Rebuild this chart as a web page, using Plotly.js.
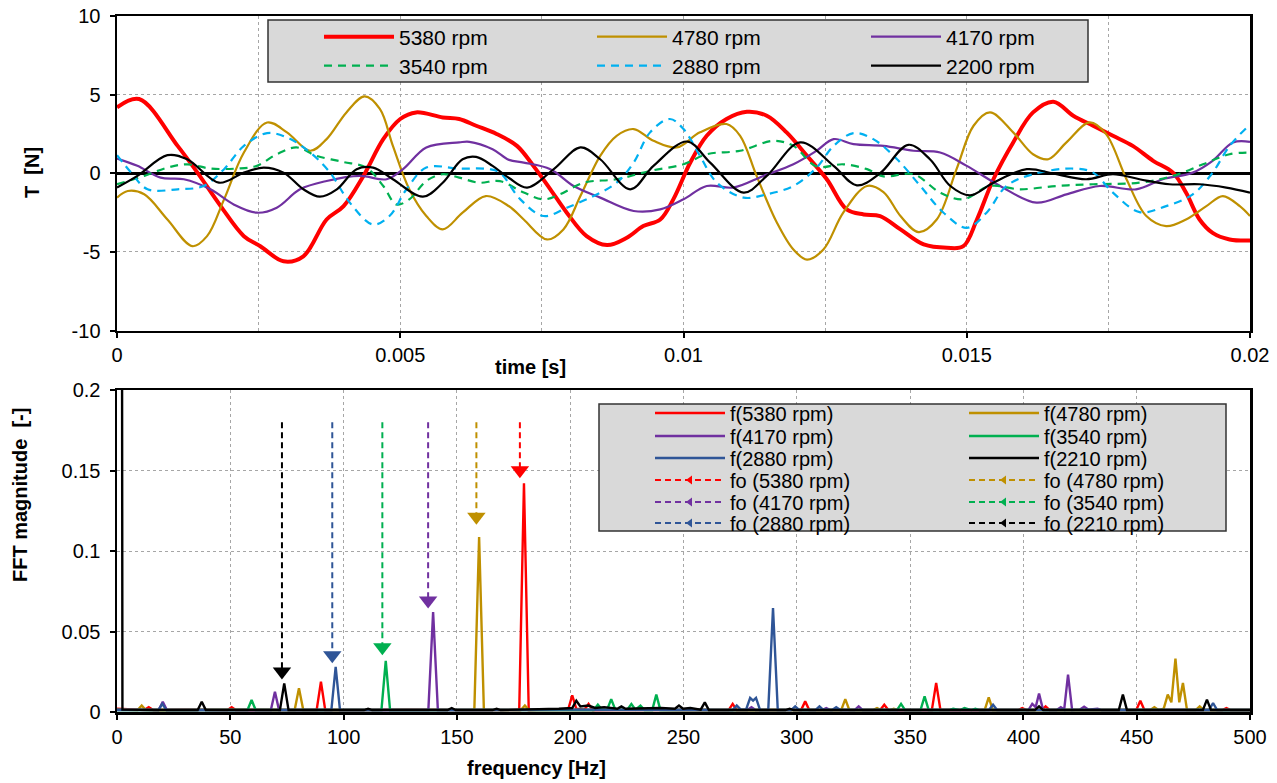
<!DOCTYPE html>
<html><head><meta charset="utf-8">
<script src="https://cdn.plot.ly/plotly-3.0.1.min.js"></script>
<style>html,body{margin:0;padding:0;background:#fff}#chart{width:1277px;height:783px}</style>
</head><body><div id="chart"></div>
<script>
// ---------- top chart: T(t) ----------
const names = ['5380 rpm','4780 rpm','4170 rpm','3540 rpm','2880 rpm','2200 rpm'];
const t5380 = [0,0.00039,0.00107,0.00142,0.00183,0.00224,0.00253,0.00294,0.00329,0.0037,0.004,0.00435,0.0047,0.005,0.00528,0.00575,0.00604,0.00634,0.0067,0.00706,0.00735,0.00765,0.00794,0.00829,0.00865,0.009,0.00929,0.00959,0.00982,0.01012,0.01041,0.01076,0.01112,0.01147,0.01182,0.01218,0.01253,0.01288,0.01318,0.01347,0.01383,0.01424,0.01465,0.01494,0.01518,0.01547,0.01582,0.01617,0.01653,0.01688,0.01723,0.01758,0.01793,0.01829,0.01864,0.01887,0.01911,0.01934,0.01964,0.02];
const T5380 = [4.19,4.72,1.74,0.04,-2.09,-4.0,-4.64,-5.6,-5.28,-2.94,-2.09,-0.17,2.17,3.45,3.87,3.55,3.45,3.02,2.5,1.74,0.47,-1.02,-2.51,-4.0,-4.57,-4.1,-3.36,-2.94,-1.66,0.68,2.38,3.45,3.91,3.66,2.6,1.11,-0.38,-2.3,-2.62,-2.72,-3.57,-4.53,-4.74,-4.64,-2.94,-0.38,1.96,3.87,4.55,3.66,3.02,2.38,1.74,0.79,0.04,-1.23,-2.94,-3.79,-4.21,-4.28];
const t4780 = [0,0.00019,0.00048,0.00089,0.00133,0.00159,0.00189,0.00224,0.00265,0.003,0.00341,0.0037,0.00405,0.00437,0.00464,0.00487,0.00516,0.00546,0.00575,0.0061,0.00651,0.00692,0.00718,0.00759,0.00788,0.00818,0.00853,0.00882,0.00912,0.00947,0.00988,0.01029,0.01076,0.011,0.01129,0.01165,0.01194,0.01218,0.01247,0.01282,0.01324,0.01353,0.01383,0.01415,0.01447,0.01482,0.01512,0.01541,0.01582,0.01617,0.01644,0.01676,0.01717,0.01746,0.01782,0.01817,0.01852,0.01887,0.01923,0.01952,0.01982,0.02];
const T4780 = [-1.55,-1.13,-1.34,-2.94,-4.64,-4.0,-1.66,1.32,3.23,2.6,1.43,2.17,3.87,4.89,4.09,1.74,-1.02,-2.72,-3.57,-2.51,-1.45,-2.1,-2.94,-4.21,-3.57,-1.45,1.11,2.38,2.81,2.06,1.64,2.6,3.13,2.38,-0.17,-3.15,-4.85,-5.49,-4.85,-2.51,-0.81,-1.2,-2.72,-3.74,-2.94,0.26,3.02,3.87,2.6,1.21,0.89,1.96,3.23,2.49,-0.38,-2.72,-3.36,-2.94,-2.09,-1.45,-2.09,-2.72];
const t4170 = [0,0.00036,0.00077,0.00118,0.00165,0.00206,0.00247,0.00282,0.00323,0.0037,0.00429,0.00476,0.00505,0.00546,0.00604,0.00622,0.00663,0.00692,0.00718,0.00765,0.00806,0.00853,0.00912,0.00959,0.01,0.01041,0.01088,0.01141,0.01194,0.01235,0.01265,0.013,0.01353,0.01406,0.01453,0.015,0.01559,0.01623,0.01676,0.01735,0.01799,0.01846,0.01899,0.01934,0.0197,0.02];
const T4170 = [0.94,0.47,-0.28,-0.38,-1.02,-1.98,-2.51,-2.19,-1.02,-0.49,-0.17,-0.38,0.26,1.64,1.96,2.0,1.53,0.85,0.68,0.26,-0.81,-1.55,-2.4,-2.3,-1.66,-0.81,-0.91,-0.17,0.57,1.43,2.17,1.85,1.74,1.43,1.32,0.47,-0.81,-1.87,-1.34,-0.81,-1.02,-0.38,0.04,0.79,1.96,2.0];
const t3540 = [0,0.00048,0.00089,0.00124,0.00165,0.00212,0.00247,0.00282,0.00317,0.00352,0.00399,0.0044,0.0047,0.00493,0.00516,0.00546,0.00575,0.00604,0.00639,0.00676,0.00718,0.00753,0.00782,0.00824,0.00882,0.00941,0.01,0.01041,0.011,0.01159,0.01194,0.01235,0.01282,0.01324,0.01353,0.01406,0.01453,0.01494,0.01541,0.01594,0.01658,0.01723,0.01805,0.01864,0.01917,0.01964,0.02];
const T3540 = [-0.7,-0.17,0.36,0.57,0.3,0.3,0.47,1.21,1.64,1.11,0.72,0.36,-0.81,-1.98,-1.66,-0.49,-0.06,-0.28,-0.6,-0.5,-1.23,-1.66,-1.34,-0.6,-0.38,0.15,0.57,1.21,1.43,2.06,1.74,0.43,0.57,0.26,-0.2,-0.06,-1.23,-1.66,-0.81,-1.02,-0.81,-0.7,-0.6,-0.17,0.57,1.21,1.32];
const t2880 = [0,0.00025,0.00054,0.00107,0.00153,0.00189,0.00224,0.00265,0.003,0.00341,0.00376,0.00411,0.00452,0.00481,0.00511,0.00546,0.00604,0.00657,0.00676,0.00712,0.00753,0.00794,0.00841,0.00882,0.00912,0.00941,0.00976,0.01,0.01029,0.01059,0.01106,0.01147,0.01194,0.01235,0.01265,0.013,0.01335,0.01377,0.01418,0.01459,0.015,0.01535,0.0157,0.01617,0.01688,0.01723,0.01758,0.01805,0.01852,0.01899,0.01934,0.01964,0.02];
const T2880 = [1.15,0.04,-1.02,-1.02,-0.81,0.26,1.74,2.55,2.28,1.32,0.04,-1.87,-3.26,-2.72,-1.02,0.36,0.3,0.26,0.04,-1.66,-2.72,-2.19,-1.45,-0.6,0.68,2.6,3.45,2.81,1.11,-0.6,-1.55,-1.34,-0.81,0.36,1.74,2.55,2.17,0.89,-0.81,-2.51,-3.47,-2.51,-0.81,-0.06,0.3,0.04,-1.23,-2.47,-2.09,-1.34,0.04,1.74,3.1];
const t2200 = [0,0.00036,0.00089,0.00124,0.0018,0.00224,0.00259,0.00294,0.00329,0.00358,0.00388,0.00423,0.00452,0.00487,0.0054,0.00575,0.0061,0.00634,0.00663,0.00692,0.00724,0.00771,0.00818,0.00853,0.00906,0.00947,0.01006,0.01047,0.01106,0.01147,0.01206,0.01265,0.01306,0.01347,0.01397,0.01435,0.01471,0.01506,0.01547,0.01606,0.01653,0.01711,0.01758,0.01805,0.01858,0.01911,0.01958,0.02];
const T2200 = [-0.91,-0.17,1.15,0.89,-0.6,0.04,0.36,0.04,-1.02,-1.49,-1.02,0.26,0.36,-0.38,-1.49,-0.6,0.89,1.04,0.47,-0.3,-0.91,0.26,1.64,0.89,-1.02,0.47,2.02,0.68,-1.23,-0.17,1.96,0.47,-0.77,0.0,1.81,0.89,-0.81,-1.4,-0.6,0.26,-0.02,-0.38,-0.06,-0.38,-0.7,-0.7,-0.91,-1.23];
const topT = [t5380,t4780,t4170,t3540,t2880,t2200];
const topV = [T5380,T4780,T4170,T3540,T2880,T2200];
const topColors = ['#FF0000','#BF9000','#7030A0','#00B050','#00B0F0','#000000'];
const topWidths = [4,2.2,2.2,2.2,2.2,2.2];
const topDash = ['solid','solid','solid','8px,6px','8px,6px','solid'];
const yTickVals = [-10,-5,0,5,10];
const yTickText = ['-10','-5','0','5','10'];

// ---------- bottom chart: FFT ----------
const fNames = ['f(5380 rpm)','f(4780 rpm)','f(4170 rpm)','f(3540 rpm)','f(2880 rpm)','f(2210 rpm)'];
const foNames = ['fo (5380 rpm)','fo (4780 rpm)','fo (4170 rpm)','fo (3540 rpm)','fo (2880 rpm)','fo (2210 rpm)'];
const fft5380f = [0,5,12,14,16,30,48.8,50.6,52.4,70,88.1,90,91.9,110,130,150,170,177.5,179.6,181.7,190,199.1,200.9,202.7,206.3,208.1,209.9,230,250,269.9,271.7,273.5,290,301.9,303.7,305.5,336.8,338.6,340.4,359.6,361.5,363.4,380,397.7,399.5,401.3,408,409.8,411.6,430,449.8,451.6,453.4,470,487.8,489.6,491.4,500];
const fft5380m = [0.002,0.0015,0.0012,0.003,0.0012,0.0015,0.0012,0.003,0.0012,0.0012,0.0012,0.0188,0.0012,0.0012,0.0015,0.0012,0.0012,0.0012,0.142,0.0012,0.0015,0.0015,0.0104,0.002,0.0015,0.005,0.0012,0.0015,0.0012,0.0012,0.005,0.0012,0.0012,0.0012,0.0066,0.0012,0.0012,0.0045,0.0012,0.0012,0.018,0.0012,0.0012,0.0012,0.0025,0.0012,0.0012,0.0035,0.0012,0.0012,0.0012,0.007,0.0012,0.0012,0.0012,0.0025,0.0012,0.0012];
const fft4780f = [0,9.1,10.9,12.7,30,50,78.4,80.3,82.2,120,157.7,159.8,161.9,178.2,180,181.8,220,260,300,319.6,321.4,323.2,333.6,335.4,337.2,341,342.8,344.6,382.9,384.7,386.5,440,456,457.8,459.6,461.9,463.7,465.3,467.1,468.8,470.4,472.2,476,477.8,479.6,500];
const fft4780m = [0.0015,0.0012,0.004,0.0012,0.0012,0.0015,0.0012,0.0147,0.0012,0.0012,0.0015,0.1087,0.0015,0.0012,0.004,0.0012,0.0012,0.0015,0.0012,0.0012,0.008,0.0012,0.0012,0.0025,0.0012,0.0012,0.002,0.0012,0.0012,0.0091,0.0012,0.0012,0.0012,0.003,0.0012,0.002,0.0108,0.006,0.0331,0.006,0.018,0.0012,0.0012,0.0035,0.0012,0.0012];
const fft4170f = [0,18.4,20.2,22,50,67.9,69.7,71.5,100,137.4,139.5,141.6,200,278.2,280,281.8,311.2,313,314.8,325.5,327.3,329.1,380,402.2,403.9,405.4,406.9,408.7,414.7,416.5,418,419.7,421.5,425,426.8,428.6,432.7,434.5,500];
const fft4170m = [0.0015,0.0012,0.0064,0.0012,0.0012,0.0012,0.0126,0.0012,0.0012,0.0012,0.062,0.0012,0.0012,0.0012,0.003,0.0012,0.0012,0.0025,0.0012,0.0012,0.0035,0.0012,0.0012,0.0012,0.005,0.003,0.0114,0.0012,0.0012,0.003,0.0015,0.0232,0.0012,0.0015,0.0033,0.0015,0.002,0.0012,0.0012];
const fft3540f = [0,30,57.6,59.4,61.2,100,116.7,118.6,120.5,180,205,210.4,212.2,214,216.3,218.1,219.9,225.2,227,228.8,231,232.8,236.2,238,239.8,300,344.2,346,347.8,354.6,356.4,358.2,367.2,369,372.2,374,377,378.8,380.6,440,500];
const fft3540m = [0.0012,0.0012,0.0012,0.0075,0.0012,0.0012,0.0012,0.0317,0.0012,0.0012,0.0015,0.0012,0.0045,0.0015,0.0015,0.008,0.0015,0.0015,0.005,0.0015,0.004,0.0012,0.0012,0.0108,0.0012,0.0012,0.0012,0.005,0.0012,0.0012,0.0097,0.0012,0.0012,0.002,0.0012,0.0025,0.0012,0.002,0.0012,0.0012,0.0012];
const fft2880f = [0,18.2,20,21.8,60,94.6,96.5,98.4,150,200,271.7,273.5,275.3,277.6,279.4,280.7,282,283.8,287.4,289.5,291.6,297.5,299.3,301.1,308.2,310,311.8,315.6,317.4,319.2,384.8,386.6,388.4,481.9,483.7,485.5,500];
const fft2880m = [0.0012,0.0012,0.005,0.0012,0.0012,0.0012,0.028,0.0012,0.0012,0.0015,0.0012,0.004,0.0015,0.0015,0.0087,0.007,0.0087,0.0012,0.0012,0.0646,0.0012,0.0012,0.0035,0.0012,0.0012,0.0035,0.0012,0.0012,0.003,0.0012,0.0012,0.0045,0.0012,0.0012,0.0056,0.0012,0.0012];
const fft2210f = [0,2.4,20,35.6,37.4,39.2,71.9,73.8,75.7,109,110.8,112.6,145.9,147.7,149.5,165.7,167.5,169.3,195,200.9,202.7,204.5,208,211,215,220.8,222.6,224.4,240,246.2,248,249.8,253,257.6,259.4,261.2,295,296.8,298.6,405.1,406.9,408.7,442.1,443.9,445.7,479.2,481,482.8,500];
const fft2210m = [3.0,0.0015,0.0012,0.0012,0.0064,0.0012,0.0012,0.0178,0.0012,0.0012,0.002,0.0012,0.0012,0.0025,0.0012,0.0012,0.002,0.0012,0.002,0.0025,0.007,0.0035,0.004,0.0025,0.003,0.002,0.0035,0.002,0.0025,0.002,0.004,0.002,0.0025,0.0015,0.006,0.0012,0.0012,0.002,0.0012,0.0012,0.0035,0.0012,0.0012,0.0108,0.0012,0.0012,0.0077,0.0012,0.0012];
const fftF = [fft5380f,fft4780f,fft4170f,fft3540f,fft2880f,fft2210f];
const fftM = [fft5380m,fft4780m,fft4170m,fft3540m,fft2880m,fft2210m];
const fftColors = ['#FF0000','#BF9000','#7030A0','#00B050','#2F5597','#000000'];
// fo markers (arrows): frequency, top and arrow-tip magnitude
const foFreq = [177.8,158.6,137.3,117.1,95.0,72.8];
const foTop = 0.18;
const foEnd = [0.1502,0.1212,0.0692,0.0402,0.0352,0.0252];

// ---------- geometry ----------
const W=1277,H=783,ML=117,MR=27,MT=16,MB=71;
const PW=W-ML-MR, PH=H-MT-MB;
const px2x = p => (p-ML)/PW;
const py2y = p => (H-MB-p)/PH;
const FONT = 'Liberation Sans, Arial, sans-serif';
const gridC = '#a6a6a6';

const traces = [];
const layout = {
  width:W, height:H, paper_bgcolor:'#fff', plot_bgcolor:'#fff',
  margin:{l:ML,r:MR,t:MT,b:MB,autoexpand:false},
  font:{family:FONT,size:20,color:'#000'},
  showlegend:true,
  shapes:[], annotations:[]
};
let lid = 0;
function addLegend(textX, rowY, fs){
  lid++;
  const id = lid===1 ? 'legend' : 'legend'+lid;
  layout[id] = {x:px2x(textX-80), y:py2y(rowY), xanchor:'left', yanchor:'middle',
    bgcolor:'rgba(0,0,0,0)', borderwidth:0, itemwidth:70,
    font:{family:FONT,size:fs,color:'#000'}};
  return id;
}
const topTextX=[399,672,946], topRowY=[37,66];
for(let i=0;i<6;i++){
  traces.push({x:topT[i], y:topV[i], xaxis:'x', yaxis:'y', type:'scatter', mode:'lines',
    name:names[i], line:{color:topColors[i], width:topWidths[i], dash:topDash[i], shape:'spline', smoothing:1},
    legend:addLegend(topTextX[i%3], topRowY[Math.floor(i/3)], 21)});
}
const botTextX=[730,1044], botRowY=[413,436,458,480,502,523];
for(let i=0;i<6;i++){
  traces.push({x:fftF[i], y:fftM[i], xaxis:'x2', yaxis:'y2', type:'scatter', mode:'lines',
    name:fNames[i], line:{color:fftColors[i], width:2.4, shape:'linear'},
    legend:addLegend(botTextX[i%2], botRowY[Math.floor(i/2)], 20)});
}
for(let i=0;i<6;i++){
  traces.push({x:[foFreq[i],foFreq[i]], y:[foTop,foEnd[i]], xaxis:'x2', yaxis:'y2', type:'scatter', mode:'lines+markers',
    name:foNames[i], line:{color:fftColors[i], width:2, dash:'6px,4px'},
    marker:{color:fftColors[i], opacity:1, symbol:['triangle-left','triangle-down'], size:[0,16], line:{width:0}},
    legend:addLegend(botTextX[i%2], botRowY[3+Math.floor(i/2)], 20)});
}

const axCommon = {showline:true, linecolor:'#000', linewidth:2.5, mirror:true, ticks:'outside', ticklen:5,
  tickwidth:2, tickcolor:'#000', showgrid:true, gridcolor:gridC, gridwidth:1, griddash:'dot',
  tickfont:{family:FONT,size:20,color:'#000'}, fixedrange:true};
const topDom = [py2y(330.5),1], botDom=[0,py2y(390)];
layout.xaxis = Object.assign({}, axCommon, {domain:[0,1], anchor:'y', range:[0,0.02], tick0:0, dtick:0.005, zeroline:false,
  minor:{dtick:0.0025, showgrid:true, gridcolor:gridC, griddash:'dot', ticks:''}});
layout.yaxis = Object.assign({}, axCommon, {domain:topDom, anchor:'x', range:[-10,10], tickmode:'array', tickvals:yTickVals, ticktext:yTickText,
  zeroline:true, zerolinecolor:'#000', zerolinewidth:3, ticklabelstandoff:5});
layout.xaxis2 = Object.assign({}, axCommon, {domain:[0,1], anchor:'y2', range:[0,500], tick0:0, dtick:50, zeroline:false});
layout.yaxis2 = Object.assign({}, axCommon, {domain:botDom, anchor:'x2', range:[0,0.2], tick0:0, dtick:0.05, zeroline:false, ticklabelstandoff:5});

// legend boxes
layout.shapes.push({type:'rect', xref:'paper', yref:'paper', layer:'above',
  x0:px2x(268), x1:px2x(1088), y0:py2y(82), y1:py2y(20), fillcolor:'#D9D9D9', line:{color:'#333', width:1.5}});
layout.shapes.push({type:'rect', xref:'paper', yref:'paper', layer:'above',
  x0:px2x(599), x1:px2x(1226), y0:py2y(531), y1:py2y(404), fillcolor:'#D9D9D9', line:{color:'#333', width:1.5}});

// axis titles
const tf = {family:FONT,size:20,color:'#000'};
layout.annotations.push({xref:'paper',yref:'paper',x:px2x(530),y:py2y(367),text:'<b>time [s]</b>',showarrow:false,font:tf,xanchor:'center',yanchor:'middle'});
layout.annotations.push({xref:'paper',yref:'paper',x:px2x(536),y:py2y(768),text:'<b>frequency [Hz]</b>',showarrow:false,font:tf,xanchor:'center',yanchor:'middle'});
layout.annotations.push({xref:'paper',yref:'paper',x:px2x(32),y:py2y(173),text:'<b>T\u00a0 [N]</b>',showarrow:false,font:tf,textangle:-90,xanchor:'center',yanchor:'middle'});
layout.annotations.push({xref:'paper',yref:'paper',x:px2x(20),y:py2y(495),text:'<b>FFT magnitude\u00a0 [-]</b>',showarrow:false,font:tf,textangle:-90,xanchor:'center',yanchor:'middle'});

Plotly.newPlot('chart', traces, layout, {staticPlot:true, displayModeBar:false});
</script></body></html>
